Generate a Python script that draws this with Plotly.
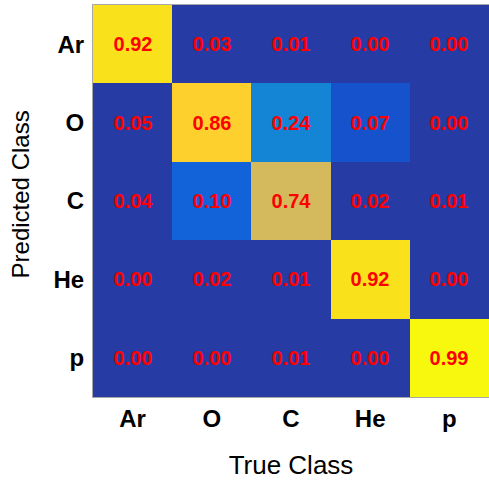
import plotly.graph_objects as go

true_classes = ["Ar", "O", "C", "He", "p"]
pred_classes = ["Ar", "O", "C", "He", "p"]
values = [
    [0.92, 0.03, 0.01, 0.00, 0.00],
    [0.05, 0.86, 0.24, 0.07, 0.00],
    [0.04, 0.10, 0.74, 0.02, 0.01],
    [0.00, 0.02, 0.01, 0.92, 0.00],
    [0.00, 0.00, 0.01, 0.00, 0.99],
]

colorscale = [
    [0.0, "#263BA3"],
    [0.055, "#263BA3"],
    [0.07, "#1652CB"],
    [0.10, "#1262DA"],
    [0.24, "#1485D4"],
    [0.50, "#4BB39A"],
    [0.74, "#D4BA5C"],
    [0.86, "#FDD02E"],
    [0.92, "#F9E21B"],
    [0.99, "#F8F80F"],
    [1.0, "#F9FB0E"],
]

font = "Liberation Sans, Arial, Helvetica, sans-serif"

fig = go.Figure(go.Heatmap(
    z=values,
    x=true_classes,
    y=pred_classes,
    colorscale=colorscale,
    zmin=0, zmax=1,
    showscale=False,
    texttemplate="<b>%{z:.2f}</b>",
    textfont=dict(color="#FF0000", size=20, family=font),
    hoverinfo="skip",
))

fig.update_layout(
    width=489, height=486,
    margin=dict(l=93, r=0, t=5, b=89),
    paper_bgcolor="white",
    plot_bgcolor="white",
    font=dict(family=font, color="black"),
    annotations=[
        dict(text="Predicted Class", textangle=-90, xref="paper", yref="paper",
             x=-0.182, y=0.5166, xanchor="center", yanchor="middle",
             showarrow=False, font=dict(size=24, family=font, color="black")),
    ],
)
fig.update_xaxes(
    title=dict(text="True Class", font=dict(size=26), standoff=25),
    tickfont=dict(size=24, family=font, weight="bold"),
    ticks="", showline=True, linecolor="#A8A8A8", linewidth=1, mirror=True,
    showgrid=False, zeroline=False,
)
fig.update_yaxes(
    tickfont=dict(size=24, family=font, weight="bold"),
    ticklabelstandoff=3,
    ticks="", showline=True, linecolor="#A8A8A8", linewidth=1, mirror=True,
    showgrid=False, zeroline=False, autorange="reversed",
)

fig.write_html("out.html")
